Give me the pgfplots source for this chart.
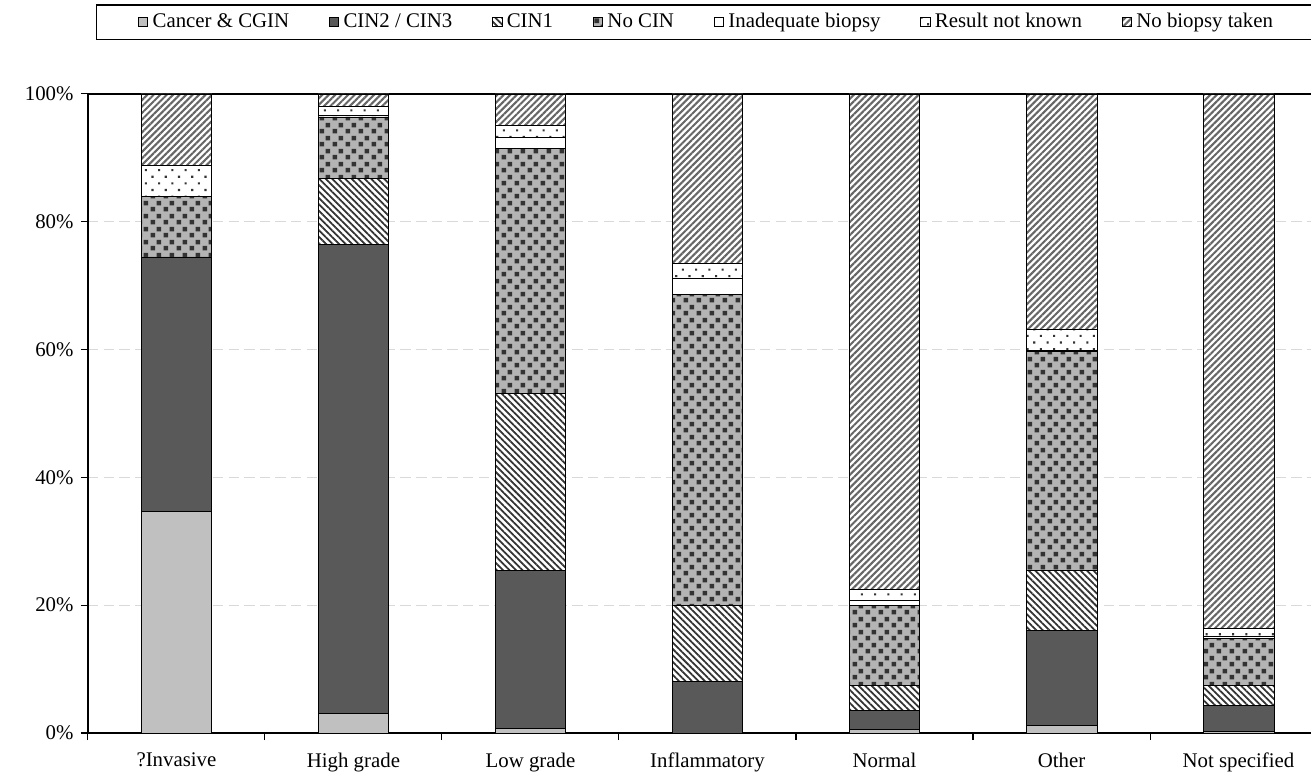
\documentclass[border=0pt]{standalone}
\usepackage{fontspec}
\setmainfont{Liberation Serif}
\usepackage{pgfplots}
\usepackage{pgfplotstable}
\pgfplotsset{compat=1.18}
\usetikzlibrary{patterns,patterns.meta,calc}

\definecolor{cancer}{HTML}{C0C0C0}
\definecolor{cin23}{HTML}{595959}
\definecolor{nocinbg}{HTML}{B4B4B4}
\definecolor{nocinsq}{HTML}{333333}
\definecolor{gridc}{HTML}{D9D9D9}

% staggered small squares for "No CIN"
\pgfdeclarepatternformonly{sqdots}{\pgfqpoint{0pt}{0pt}}{\pgfqpoint{6pt}{6pt}}{\pgfqpoint{6pt}{6pt}}{%
  \pgfpathrectangle{\pgfqpoint{0.3pt}{0.3pt}}{\pgfqpoint{2.3pt}{2.3pt}}%
  \pgfpathrectangle{\pgfqpoint{3.3pt}{3.3pt}}{\pgfqpoint{2.3pt}{2.3pt}}%
  \pgfusepath{fill}}

\pgfplotsset{sqleg/.style={legend image code/.code={\draw[##1] (0pt,-2.3pt) rectangle (4.6pt,2.3pt);}}}

% percentages, stacked bottom to top
\pgfplotstableread{
x cancer cin23 cin1 nocin inad result nobiopsy
0 34.7 39.8 0    9.5  0   4.8 11.2
1 3.0  73.4 10.4 9.6  0.3 1.3 2.0
2 0.7  24.7 27.8 38.3 1.7 1.9 4.9
3 0    8.0  11.9 48.7 2.5 2.4 26.5
4 0.5  3.0  3.9  12.5 0.9 1.6 77.6
5 1.2  14.9 9.3  34.3 0.1 3.4 36.8
6 0.3  4.0  3.1  7.4  0.3 1.2 83.7
}\data

\begin{document}
\begin{tikzpicture}
\begin{axis}[
  scale only axis, width=594.7pt, height=306.7pt,
  ybar stacked, bar width=0.4,
  xmin=-0.5, xmax=6.5, ymin=0, ymax=100,
  xtick={-0.5,0.5,...,6.5},
  x tick label as interval,
  xticklabels={?Invasive,High grade,Low grade,Inflammatory,Normal,Other,Not specified},
  xticklabel style={yshift=-2.5pt},
  ytick={0,20,...,100},
  yticklabel={\pgfmathprintnumber{\tick}\%},
  /pgf/number format/assume math mode=true,
  tick pos=left, tick align=outside, major tick length=3.4pt,
  tick style={black, line width=0.5pt},
  ymajorgrids, grid style={dash pattern=on 5pt off 2.5pt, color=gridc, line width=0.6pt},
  axis line style={line width=0.6pt},
  legend columns=-1,
  legend style={at={(axis description cs:0.5,1)}, anchor=south, yshift=26pt, xshift=0pt,
    draw=black, line width=0.5pt, inner xsep=20pt, inner ysep=2pt,
    /tikz/every even column/.append style={column sep=17pt}},
]
\addplot[draw=black, fill=cancer, sqleg] table[x=x, y=cancer]{\data};
\addlegendentry{Cancer \& CGIN}
\addplot[draw=black, fill=cin23, sqleg] table[x=x, y=cin23]{\data};
\addlegendentry{CIN2 / CIN3}
\addplot[draw=black, fill=white, postaction={pattern={Lines[angle=-45, distance=2.2pt, line width=0.85pt]}, pattern color=black!80}, sqleg] table[x=x, y=cin1]{\data};
\addlegendentry{CIN1}
\addplot[draw=black, fill=nocinbg, postaction={pattern=sqdots, pattern color=nocinsq}, sqleg] table[x=x, y=nocin]{\data};
\addlegendentry{No CIN}
\addplot[draw=black, fill=white, sqleg] table[x=x, y=inad]{\data};
\addlegendentry{Inadequate biopsy}
\addplot[draw=black, fill=white, postaction={pattern={Dots[angle=45, distance=4.5pt, radius=0.7pt]}, pattern color=black!80}, sqleg] table[x=x, y=result]{\data};
\addlegendentry{Result not known}
\addplot[draw=black, fill=white, postaction={pattern={Lines[angle=45, distance=2.2pt, line width=1pt]}, pattern color=black!60}, sqleg] table[x=x, y=nobiopsy]{\data};
\addlegendentry{No biopsy taken}
\end{axis}
\pgfresetboundingbox
\path[use as bounding box] ($(current axis.south west)+(-42.2pt,-22.6pt)$) rectangle ($(current axis.north west)+(587pt,45.1pt)$);
\end{tikzpicture}
\end{document}
